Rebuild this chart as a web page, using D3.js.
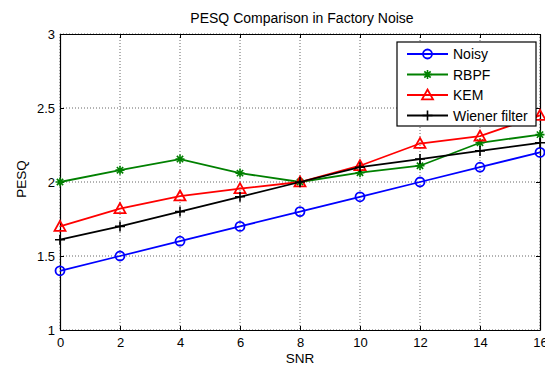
<!DOCTYPE html>
<html>
<head>
<meta charset="utf-8">
<script src="https://cdn.jsdelivr.net/npm/d3@7"></script>
<style>
  body { margin: 0; background: #fff; }
  text { font-family: "Liberation Sans", Arial, sans-serif; }
</style>
</head>
<body>
<div id="chart"></div>
<script>
// dữ liệu
const snr = [0, 2, 4, 6, 8, 10, 12, 14, 16];
const noisy = [1.4, 1.5, 1.6, 1.7, 1.8, 1.9, 2.0, 2.1, 2.2];
const rbpf = [2.0, 2.08, 2.155, 2.06, 2.0, 2.063, 2.11, 2.265, 2.32];
const kem = [1.7, 1.82, 1.905, 1.955, 2.0, 2.11, 2.26, 2.31, 2.45];
const wiener = [1.61, 1.7, 1.8, 1.9, 2.0, 2.1, 2.155, 2.21, 2.265];
const xTicks = [0, 2, 4, 6, 8, 10, 12, 14, 16];
const yTicks = [1, 1.5, 2, 2.5, 3];

const series = [
    { name: "Noisy", values: noisy, color: "#0000ff", marker: "circle" },
    { name: "RBPF", values: rbpf, color: "#008000", marker: "star" },
    { name: "KEM", values: kem, color: "#ff0000", marker: "triangle" },
    { name: "Wiener filter", values: wiener, color: "#000000", marker: "plus" }
];

const width = 545, height = 365;
const margin = { top: 34, right: 5, bottom: 35, left: 60 };
const w = width - margin.left - margin.right,
    h = height - margin.top - margin.bottom;

const svg = d3.select("#chart")
    .append("svg")
    .attr("width", width)
    .attr("height", height);

const chart = svg.append("g")
    .attr("transform", `translate(${margin.left},${margin.top})`);

const x = d3.scaleLinear().domain([0, 16]).range([0, w]);
const y = d3.scaleLinear().domain([1, 3]).range([h, 0]);

// lưới chấm
chart.selectAll(".gx")
    .data(xTicks)
    .enter()
    .append("line")
    .attr("x1", d => x(d)).attr("x2", d => x(d))
    .attr("y1", 0).attr("y2", h)
    .attr("stroke", "#666")
    .attr("stroke-width", 1)
    .attr("stroke-dasharray", "1,2");

chart.selectAll(".gy")
    .data(yTicks)
    .enter()
    .append("line")
    .attr("x1", 0).attr("x2", w)
    .attr("y1", d => y(d)).attr("y2", d => y(d))
    .attr("stroke", "#666")
    .attr("stroke-width", 1)
    .attr("stroke-dasharray", "1,2");

// trục kiểu MATLAB: tick hướng vào trong
const axB = chart.append("g")
    .attr("transform", `translate(0,${h})`)
    .call(d3.axisBottom(x).tickValues(xTicks).tickSizeInner(-4).tickSizeOuter(0).tickPadding(8));
const axL = chart.append("g")
    .call(d3.axisLeft(y).tickValues(yTicks).tickFormat(d3.format("")).tickSizeInner(-4).tickSizeOuter(0).tickPadding(5));
const axT = chart.append("g")
    .call(d3.axisTop(x).tickValues(xTicks).tickSizeInner(-4).tickSizeOuter(0).tickFormat(""));
const axR = chart.append("g")
    .attr("transform", `translate(${w},0)`)
    .call(d3.axisRight(y).tickValues(yTicks).tickSizeInner(-4).tickSizeOuter(0).tickFormat(""));

[axB, axL, axT, axR].forEach(a => {
    a.select(".domain").attr("stroke", "#000").attr("stroke-width", 1.2);
    a.selectAll("text").style("font-size", "13px").attr("fill", "#000");
});

const line = d3.line()
    .x((d, i) => x(snr[i]))
    .y(d => y(d));

function drawMarker(g, type, color, cx, cy) {
    if (type === "circle") {
        g.append("circle").attr("cx", cx).attr("cy", cy).attr("r", 4.5)
            .attr("fill", "none").attr("stroke", color).attr("stroke-width", 1.8);
    } else if (type === "triangle") {
        const s = 5.5;
        g.append("path")
            .attr("d", `M${cx},${cy - s}L${cx + s},${cy + s * 0.8}L${cx - s},${cy + s * 0.8}Z`)
            .attr("fill", "none").attr("stroke", color).attr("stroke-width", 1.8);
    } else if (type === "plus") {
        const s = 5;
        g.append("path")
            .attr("d", `M${cx - s},${cy}H${cx + s}M${cx},${cy - s}V${cy + s}`)
            .attr("stroke", color).attr("stroke-width", 1.6);
    } else {
        const s = 4.5;
        g.append("path")
            .attr("d", `M${cx - s},${cy}H${cx + s}M${cx},${cy - s}V${cy + s}M${cx - s * 0.7},${cy - s * 0.7}L${cx + s * 0.7},${cy + s * 0.7}M${cx - s * 0.7},${cy + s * 0.7}L${cx + s * 0.7},${cy - s * 0.7}`)
            .attr("stroke", color).attr("stroke-width", 1.6);
    }
}

series.forEach(s => {
    chart.append("path")
        .attr("d", line(s.values))
        .attr("fill", "none")
        .attr("stroke", s.color)
        .attr("stroke-width", 1.8);
    const g = chart.append("g");
    s.values.forEach((v, i) => drawMarker(g, s.marker, s.color, x(snr[i]), y(v)));
});

// chú thích
const legend = svg.append("g").attr("transform", "translate(397,42)");
legend.append("rect")
    .attr("width", 139).attr("height", 84)
    .attr("fill", "#fff").attr("stroke", "#000").attr("stroke-width", 1.2);
series.forEach((s, i) => {
    const ly = 12 + i * 20.5;
    legend.append("line")
        .attr("x1", 10).attr("x2", 51).attr("y1", ly).attr("y2", ly)
        .attr("stroke", s.color).attr("stroke-width", 1.8);
    drawMarker(legend, s.marker, s.color, 30.5, ly);
    legend.append("text")
        .attr("x", 56).attr("y", ly + 5)
        .text(s.name)
        .style("font-size", "14px");
});

svg.append("text")
    .attr("x", 302).attr("y", 23)
    .attr("text-anchor", "middle")
    .style("font-size", "14px")
    .text("PESQ Comparison in Factory Noise");

svg.append("text")
    .attr("x", margin.left + w / 2).attr("y", 363)
    .attr("text-anchor", "middle")
    .style("font-size", "13.5px")
    .text("SNR");

svg.append("text")
    .attr("transform", `translate(26,179) rotate(-90)`)
    .attr("text-anchor", "middle")
    .style("font-size", "13.5px")
    .text("PESQ");
</script>
</body>
</html>
